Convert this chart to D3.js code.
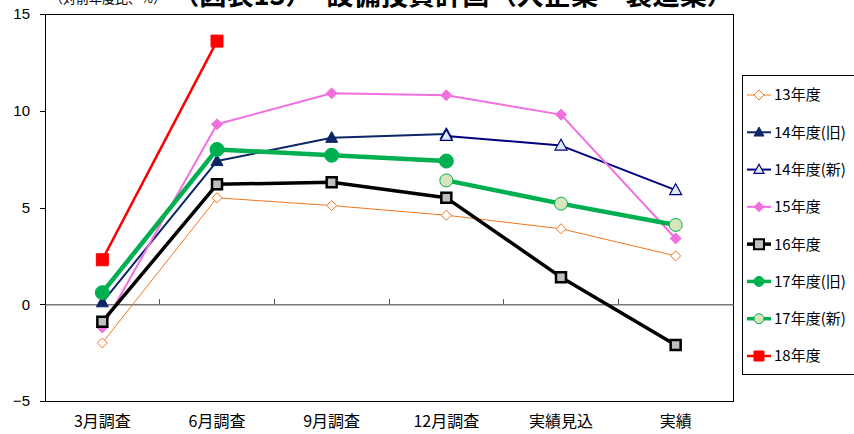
<!DOCTYPE html>
<html>
<head>
<meta charset="utf-8">
<script src="https://cdn.jsdelivr.net/npm/d3@7"></script>
<style>
  html, body { margin: 0; padding: 0; background: #fff; }
  svg { display: block; }
</style>
</head>
<body>
<svg id="chart" width="854" height="434"></svg>
<script>
// Survey rounds on the x axis
const categories = ["3月調査", "6月調査", "9月調査", "12月調査", "実績見込", "実績"];
const yTicks = [-5, 0, 5, 10, 15];

// Year-on-year change (%) per fiscal-year plan; null = no survey value
const fy13    = [-2.0, 5.5, 5.1, 4.6, 3.9, 2.5];
const fy14Old = [0.1, 7.4, 8.6, 8.8, null, null];
const fy14New = [null, null, null, 8.7, 8.2, 5.9];
const fy15    = [-1.2, 9.3, 10.9, 10.8, 9.8, 3.4];
const fy16    = [-0.9, 6.2, 6.3, 5.5, 1.4, -2.1];
const fy17Old = [0.6, 8.0, 7.7, 7.4, null, null];
const fy17New = [null, null, null, 6.4, 5.2, 4.1];
const fy18    = [2.3, 13.6, null, null, null, null];

const seriesNames = ["13年度", "14年度(旧)", "14年度(新)", "15年度", "16年度", "17年度(旧)", "17年度(新)", "18年度"];

const series = [
  { name: seriesNames[0], values: fy13,    line: "#F07820", width: 1,   marker: "diamond",  size: 10, fill: "#fff",    stroke: "#F07820", sw: 1 },
  { name: seriesNames[1], values: fy14Old, line: "#0B2565", width: 2,   marker: "triangle", size: 12, fill: "#0B2565", stroke: "#0B2565", sw: 1 },
  { name: seriesNames[2], values: fy14New, line: "#000080", width: 2,   marker: "triangle", size: 12, fill: "#DCEBF7", stroke: "#000080", sw: 1.2 },
  { name: seriesNames[3], values: fy15,    line: "#F26FE0", width: 2,   marker: "diamondF", size: 11, fill: "#F26FE0", stroke: "#F26FE0", sw: 1 },
  { name: seriesNames[4], values: fy16,    line: "#000000", width: 3.5, marker: "square",   size: 10, fill: "#BFBFBF", stroke: "#000000", sw: 2.5 },
  { name: seriesNames[5], values: fy17Old, line: "#00B050", width: 4.5, marker: "circle",   size: 14, fill: "#00B050", stroke: "#00B050", sw: 1 },
  { name: seriesNames[6], values: fy17New, line: "#00B050", width: 4.5, marker: "circle",   size: 13, fill: "#D8E4BC", stroke: "#00B050", sw: 1 },
  { name: seriesNames[7], values: fy18,    line: "#FF0000", width: 2.5, marker: "squareF",  size: 12, fill: "#FF0000", stroke: "#FF0000", sw: 1 }
];

const svg = d3.select("#chart");
const plot = { left: 45, right: 733, top: 14, bottom: 401 };

const x = d3.scaleBand().domain(categories).range([plot.left, plot.right]);
const y = d3.scaleLinear().domain([-5, 15]).range([plot.bottom, plot.top]);
const cx = c => x(c) + x.bandwidth() / 2;

const jpFont = "'Noto Sans CJK JP', 'Noto Sans', sans-serif";
const numFont = "'Liberation Sans', Arial, sans-serif";

// Titles (partly above the top edge)
svg.append("text")
  .attr("x", 50).attr("y", 3)
  .attr("font-family", jpFont).attr("font-size", 13).attr("fill", "#000")
  .text("（対前年度比、%）");
svg.append("text")
  .attr("x", 172).attr("y", 5)
  .attr("font-family", jpFont).attr("font-size", 28).attr("font-weight", "bold").attr("fill", "#000")
  .attr("textLength", 562).attr("lengthAdjust", "spacingAndGlyphs")
  .text("（図表13）　設備投資計画（大企業・製造業）");

// Plot frame
svg.append("rect")
  .attr("x", plot.left).attr("y", plot.top)
  .attr("width", plot.right - plot.left).attr("height", plot.bottom - plot.top)
  .attr("fill", "none").attr("stroke", "#000").attr("stroke-width", 1)
  .attr("shape-rendering", "crispEdges");

// Y axis
const yAxis = d3.axisLeft(y).tickValues(yTicks).tickSize(5).tickPadding(10)
  .tickFormat(d => d < 0 ? "\u2212" + Math.abs(d) : d);
const gy = svg.append("g").attr("transform", `translate(${plot.left},0)`).call(yAxis);
gy.select(".domain").remove();
gy.selectAll("line").attr("stroke", "#000").attr("shape-rendering", "crispEdges");
gy.selectAll("text").attr("font-family", numFont).attr("font-size", 15).attr("fill", "#000");

// Zero line with category separators
const zx = d3.axisTop(x).tickSize(0).tickFormat("");
const gz = svg.append("g").attr("transform", `translate(0,${y(0)})`).call(zx);
gz.select(".domain").attr("stroke", "#777").attr("stroke-width", 1.3);
gz.selectAll(".tick").remove();
gz.selectAll(".sep")
  .data(categories.slice(1))
  .join("line")
  .attr("x1", d => x(d)).attr("x2", d => x(d))
  .attr("y1", 0).attr("y2", -5)
  .attr("stroke", "#555").attr("stroke-width", 1)
  .attr("shape-rendering", "crispEdges");

// X labels
const xAxis = d3.axisBottom(x).tickSize(0).tickPadding(15);
const gx = svg.append("g").attr("transform", `translate(0,${plot.bottom})`).call(xAxis);
gx.select(".domain").remove();
gx.selectAll("text").attr("font-family", jpFont).attr("font-size", 16).attr("fill", "#000");

// Marker path generators
function markerPath(type, s) {
  const h = s / 2;
  switch (type) {
    case "diamond":
    case "diamondF":
      return `M0,${-h}L${h},0L0,${h}L${-h},0Z`;
    case "triangle":
      return `M0,${-h * 1.05}L${h},${h * 0.75}L${-h},${h * 0.75}Z`;
    case "square":
    case "squareF":
      return `M${-h},${-h}H${h}V${h}H${-h}Z`;
    case "circle":
      return d3.arc()({ innerRadius: 0, outerRadius: h, startAngle: 0, endAngle: 2 * Math.PI });
  }
}

const line = d3.line()
  .defined(d => d.v !== null)
  .x(d => cx(d.c))
  .y(d => y(d.v));

const gSeries = svg.append("g");
series.forEach(s => {
  const pts = s.values.map((v, i) => ({ c: categories[i], v }));
  const g = gSeries.append("g");
  g.append("path")
    .datum(pts)
    .attr("d", line)
    .attr("fill", "none")
    .attr("stroke", s.line)
    .attr("stroke-width", s.width)
    .attr("stroke-linejoin", "round");
  g.selectAll("path.m")
    .data(pts.filter(d => d.v !== null))
    .join("path")
    .attr("class", "m")
    .attr("transform", d => `translate(${cx(d.c)},${y(d.v)})`)
    .attr("d", markerPath(s.marker, s.size))
    .attr("fill", s.fill)
    .attr("stroke", s.stroke)
    .attr("stroke-width", s.sw);
});

// Legend
const lg = svg.append("g");
lg.append("rect")
  .attr("x", 742).attr("y", 75).attr("width", 130).attr("height", 299)
  .attr("fill", "#fff").attr("stroke", "#000").attr("stroke-width", 1)
  .attr("shape-rendering", "crispEdges");
const ly = d3.scalePoint().domain(seriesNames).range([95, 356]);
series.forEach(s => {
  const yy = ly(s.name);
  const g = lg.append("g");
  g.append("line")
    .attr("x1", 747).attr("x2", 771).attr("y1", yy).attr("y2", yy)
    .attr("stroke", s.line).attr("stroke-width", Math.min(s.width, 3.5));
  g.append("path")
    .attr("transform", `translate(759,${yy})`)
    .attr("d", markerPath(s.marker, Math.min(s.size, 10)))
    .attr("fill", s.fill).attr("stroke", s.stroke).attr("stroke-width", Math.min(s.sw, 2));
  g.append("text")
    .attr("x", 774).attr("y", yy).attr("dy", "0.36em")
    .attr("font-family", jpFont).attr("font-size", 15).attr("fill", "#000")
    .text(s.name);
});
</script>
</body>
</html>
